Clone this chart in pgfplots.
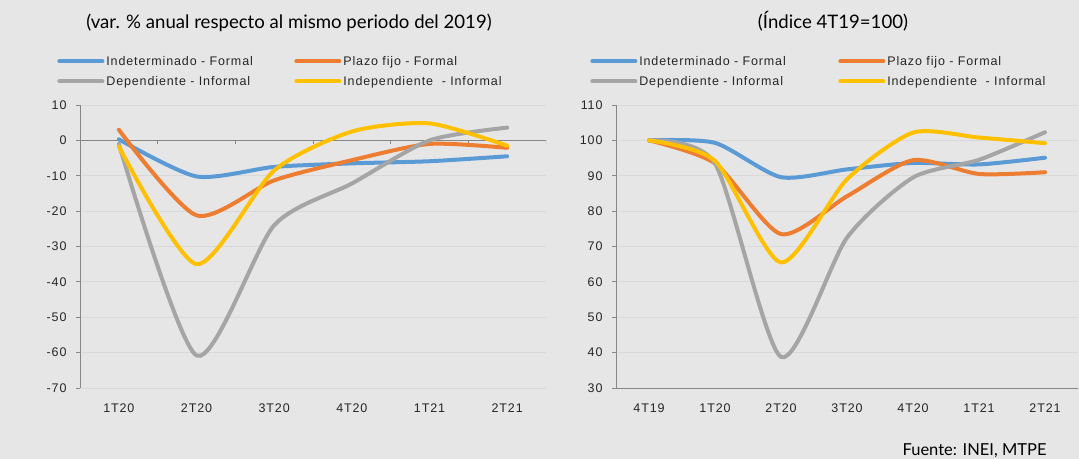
\documentclass[border=0pt]{standalone}
\usepackage{pgfplots}
\pgfplotsset{compat=1.18}
\usepackage{fontspec}
\setmainfont{Liberation Sans}
\newfontfamily\lsfont[LetterSpace=7]{Liberation Sans}
\newfontfamily\titlefont{Lato}
\definecolor{bg}{HTML}{E7E6E6}
\definecolor{gridc}{HTML}{D9D9D9}
\definecolor{axc}{HTML}{868686}
\definecolor{cblue}{HTML}{5B9BD5}
\definecolor{corange}{HTML}{ED7D31}
\definecolor{cgray}{HTML}{A5A5A5}
\definecolor{cyellow}{HTML}{FFC000}
\definecolor{txt}{HTML}{262626}
\pgfplotsset{
  panel/.style={
    scale only axis, anchor=south west, height=283bp,
    axis background/.style={fill=none},
    axis y line*=left, axis x line*=bottom,
    y axis line style={axc, line width=0.8bp},
    ymajorgrids, grid style={gridc, line width=0.8bp},
    tick align=outside, major tick length=4bp, minor tick length=4bp,
    ytick style={axc, line width=0.8bp},
    xtick style={draw=none},
    minor x tick style={axc, line width=0.8bp},
    ticklabel style={font=\lsfont\fontsize{12.5bp}{14bp}\selectfont, text=txt},
    /pgf/number format/assume math mode=true,
    yticklabel style={xshift=-6bp},
    xticklabel style={yshift=-8bp},
    xtick={0,...,6},
    legend columns=2,
    legend cell align=left,
    legend style={draw=none, fill=none, inner sep=0pt, row sep=5.7bp,
      font=\lsfont\fontsize{12.5bp}{14bp}\selectfont, text=txt,
      anchor=north west},
    legend image code/.code={\draw[#1, line width=4bp] (0bp,0bp) -- (43bp,0bp);},
    every axis plot/.append style={line width=4bp, smooth, tension=0.42, line cap=round},
  }
}
\begin{document}
\begin{tikzpicture}
\fill[bg] (0,0) rectangle (1079bp,459bp);
\useasboundingbox (0,0) rectangle (1079bp,459bp);
\node[font=\titlefont\fontsize{18.6bp}{21bp}\selectfont, text=black] at (289bp,436bp) {(var. \% anual respecto al mismo periodo del 2019)};
\node[font=\titlefont\fontsize{18.6bp}{21bp}\selectfont, text=black] at (833bp,438bp) {(Índice 4T19=100)};
\node[font=\titlefont\fontsize{16.5bp}{18bp}\selectfont, text=black, anchor=east] at (1050bp,8bp) {Fuente: INEI, MTPE};

\begin{axis}[panel, at={(80bp,71bp)}, width=466bp,
  xmin=-0.5, xmax=5.5, ymin=-70, ymax=10, ytick={-70,-60,...,10},
  x axis line style={draw=none},
  xticklabels={1T20,2T20,3T20,4T20,1T21,2T21},
  legend style={at={(axis description cs:-0.049,1.181)}}]
\draw[axc, line width=0.8bp] (axis cs:-0.5,0) -- (axis cs:5.5,0);
\draw[axc, line width=0.8bp] (axis cs:0.5,0) -- ([yshift=-4bp]axis cs:0.5,0);
\draw[axc, line width=0.8bp] (axis cs:1.5,0) -- ([yshift=-4bp]axis cs:1.5,0);
\draw[axc, line width=0.8bp] (axis cs:2.5,0) -- ([yshift=-4bp]axis cs:2.5,0);
\draw[axc, line width=0.8bp] (axis cs:3.5,0) -- ([yshift=-4bp]axis cs:3.5,0);
\draw[axc, line width=0.8bp] (axis cs:4.5,0) -- ([yshift=-4bp]axis cs:4.5,0);
\draw[axc, line width=0.8bp] (axis cs:5.5,0) -- ([yshift=-4bp]axis cs:5.5,0);
\addplot[cblue] coordinates {(0,0.3) (1,-10.2) (2,-7.5) (3,-6.5) (4,-5.9) (5,-4.5)};
\addlegendentry{\makebox[186bp][l]{Indeterminado - Formal}}
\addplot[corange] coordinates {(0,3.0) (1,-21.2) (2,-11.3) (3,-5.6) (4,-1.0) (5,-2.1)};
\addlegendentry{Plazo fijo - Formal}
\addplot[cgray] coordinates {(0,-1.0) (1,-60.8) (2,-24) (3,-12.2) (4,0) (5,3.6)};
\addlegendentry{\makebox[186bp][l]{Dependiente - Informal}}
\addplot[cyellow] coordinates {(0,-1.7) (1,-35) (2,-8.5) (3,2.5) (4,4.8) (5,-1.5)};
\addlegendentry{Independiente\ \ - Informal}
\end{axis}

\begin{axis}[panel, at={(616bp,71bp)}, width=462bp,
  xmin=-0.5, xmax=6.5, ymin=30, ymax=110, ytick={30,40,...,110},
  x axis line style={axc, line width=0.8bp},
  minor xtick={-0.5,0.5,...,6.5},
  xticklabels={4T19,1T20,2T20,3T20,4T20,1T21,2T21},
  legend style={at={(axis description cs:-0.056,1.181)}}]
\addplot[cblue] coordinates {(0,100) (1,99.3) (2,89.6) (3,91.8) (4,93.6) (5,93.2) (6,95.1)};
\addlegendentry{\makebox[197bp][l]{Indeterminado - Formal}}
\addplot[corange] coordinates {(0,100) (1,93.5) (2,73.5) (3,84.2) (4,94.4) (5,90.5) (6,91.0)};
\addlegendentry{Plazo fijo - Formal}
\addplot[cgray] coordinates {(0,100) (1,93.5) (2,38.8) (3,72.5) (4,89.5) (5,94.5) (6,102.3)};
\addlegendentry{\makebox[197bp][l]{Dependiente - Informal}}
\addplot[cyellow] coordinates {(0,100) (1,94.2) (2,65.5) (3,89.0) (4,102.2) (5,100.8) (6,99.2)};
\addlegendentry{Independiente\ \ - Informal}
\end{axis}
\end{tikzpicture}
\end{document}
